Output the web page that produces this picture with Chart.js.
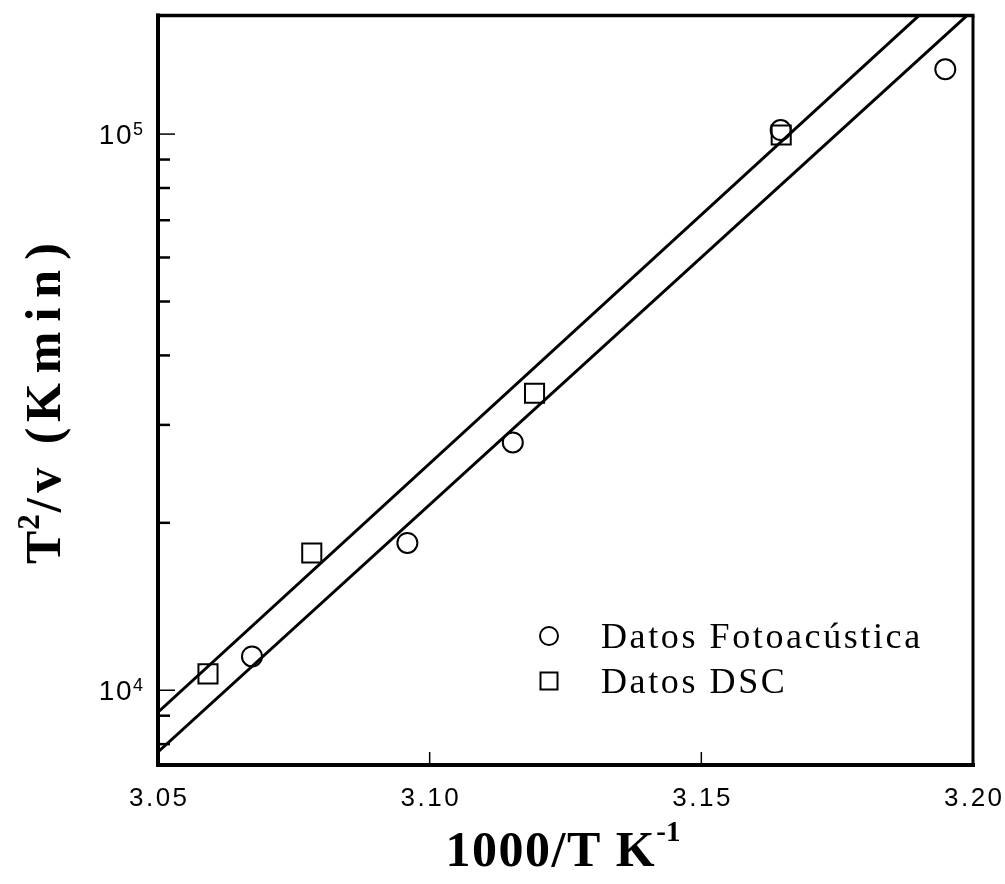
<!DOCTYPE html>
<html>
<head>
<meta charset="utf-8">
<script src="https://cdn.jsdelivr.net/npm/chart.js@4.4.1/dist/chart.umd.min.js"></script>
<style>
  html, body { margin: 0; padding: 0; background: #fff; }
  #wrap { width: 1005px; height: 884px; }
</style>
</head>
<body>
<div id="wrap"><canvas id="c"></canvas></div>
<script>
// Photoacoustic runs: 1000/T (K^-1) vs T^2/v (K min)
const fotoX = [3.0673, 3.0959, 3.1153, 3.1646, 3.1949];
const fotoY = [11500, 18400, 27900, 101700, 130800];
// DSC runs
const dscX = [3.0592, 3.0783, 3.1193, 3.1647];
const dscY = [10700, 17650, 34200, 99600];
// Kissinger straight-line fits, given at the ends of the x range
const fitX = [3.05, 3.20];
const fitDscY = [9131, 200500];
const fitFotoY = [7744, 167100];

// Axis ticks and labels
const xTickValues = [3.05, 3.10, 3.15, 3.20];
const xTickLabels = ['3.05', '3.10', '3.15', '3.20'];
const yMajorValues = [1e4, 1e5];
const yMajorLabels = [['10', '4'], ['10', '5']];
const yMinorValues = [8e3, 9e3, 2e4, 3e4, 4e4, 5e4, 6e4, 7e4, 8e4, 9e4];
const legendLabels = ['Datos Fotoacústica', 'Datos DSC'];

const pts = (xs, ys) => xs.map((v, i) => ({ x: v, y: ys[i] }));

const SANS = '"Liberation Sans", Arial, sans-serif';
const SERIF = '"Liberation Serif", "Times New Roman", serif';

function seg(ctx, x1, y1, x2, y2) {
  ctx.beginPath(); ctx.moveTo(x1, y1); ctx.lineTo(x2, y2); ctx.stroke();
}

// Text with tracking; returns advance width
function spaced(ctx, text, x, y, sp) {
  ctx.letterSpacing = sp + 'px';
  ctx.fillText(text, x, y);
  const w = ctx.measureText(text).width;
  ctx.letterSpacing = '0px';
  return w;
}
function spacedWidth(ctx, text, sp) {
  ctx.letterSpacing = sp + 'px';
  const w = ctx.measureText(text).width;
  ctx.letterSpacing = '0px';
  return w;
}

const decorations = {
  id: 'decorations',
  afterDraw(chart) {
    const { ctx, chartArea: a, scales: { x, y } } = chart;
    ctx.save();
    ctx.strokeStyle = '#000';
    ctx.fillStyle = '#000';
    ctx.lineCap = 'butt';

    // inward tick marks
    ctx.lineWidth = 1.5;
    xTickValues.forEach(v => {
      const px = x.getPixelForValue(v);
      seg(ctx, px, a.bottom, px, a.bottom - 13);
    });
    yMajorValues.forEach(v => {
      const py = y.getPixelForValue(v);
      seg(ctx, a.left, py, a.left + 17, py);
    });
    ctx.lineWidth = 2.5;
    yMinorValues.forEach(v => {
      const py = y.getPixelForValue(v);
      seg(ctx, a.left, py, a.left + 12, py);
    });

    // frame
    ctx.lineWidth = 4;
    seg(ctx, a.left, a.top - 2, a.left, a.bottom + 2);
    seg(ctx, a.left - 2, a.bottom, a.right + 2, a.bottom);
    ctx.lineWidth = 3.5;
    seg(ctx, a.left - 2, a.top, a.right + 1.5, a.top);
    ctx.lineWidth = 3;
    seg(ctx, a.right, a.top, a.right, a.bottom + 2);

    // x tick labels
    ctx.font = '26px ' + SANS;
    ctx.textBaseline = 'alphabetic';
    ctx.textAlign = 'left';
    xTickValues.forEach((v, i) => {
      const px = x.getPixelForValue(v);
      const w = spacedWidth(ctx, xTickLabels[i], 2.5) - 2.5;
      spaced(ctx, xTickLabels[i], px - w / 2, a.bottom + 41, 2.5);
    });

    // y tick labels: 10 with superscript exponent
    yMajorValues.forEach((v, i) => {
      const py = y.getPixelForValue(v);
      const [base, ex] = yMajorLabels[i];
      ctx.font = '18px ' + SANS;
      const we = ctx.measureText(ex).width;
      const right = a.left - 15;
      ctx.fillText(ex, right - we, py + 1);
      ctx.font = '28px ' + SANS;
      const wb = spacedWidth(ctx, base, 1.5);
      spaced(ctx, base, right - we - wb, py + 10, 1.5);
    });

    // x axis title: 1000/T K^-1
    {
      ctx.font = 'bold 50px ' + SERIF;
      const main = '1000/T K';
      const sp = 1.5;
      const wm = spacedWidth(ctx, main, sp);
      ctx.font = 'bold 29px ' + SERIF;
      const ws = ctx.measureText('-1').width;
      const total = wm + ws;
      const xs = 563 - total / 2;
      const base = 866;
      ctx.font = 'bold 50px ' + SERIF;
      spaced(ctx, main, xs, base, sp);
      ctx.font = 'bold 29px ' + SERIF;
      ctx.fillText('-1', xs + wm, base - 25);
    }

    // y axis title: T^2/v (Kmin), rotated
    {
      ctx.save();
      ctx.translate(60, 564);
      ctx.rotate(-Math.PI / 2);
      let p = 0;
      ctx.font = 'bold 50px ' + SERIF;
      ctx.fillText('T', p, 0);
      p += ctx.measureText('T').width + 1;
      ctx.font = 'bold 31px ' + SERIF;
      ctx.fillText('2', p, -21);
      p += ctx.measureText('2').width + 2;
      ctx.font = 'bold 50px ' + SERIF;
      p += spaced(ctx, '/v (', p, 0, 5.5);
      p += spaced(ctx, 'Kmin', p, 0, 10);
      ctx.fillText(')', p, 0);
      ctx.restore();
    }

    // legend
    {
      const mx = 549, tx = 601;
      const rows = [636, 681];
      ctx.lineWidth = 2;
      ctx.beginPath(); ctx.arc(mx, rows[0], 9, 0, Math.PI * 2); ctx.stroke();
      ctx.strokeRect(mx - 8.5, rows[1] - 8.5, 17, 17);
      ctx.font = '36px ' + SERIF;
      rows.forEach((ry, i) => spaced(ctx, legendLabels[i], tx, ry + 12, 2.6));
    }
    ctx.restore();
  }
};

new Chart(document.getElementById('c'), {
  type: 'scatter',
  data: {
    datasets: [
      {
        type: 'line', label: 'fit DSC', data: pts(fitX, fitDscY),
        borderColor: '#000', borderWidth: 3, pointRadius: 0, fill: false, clip: 0
      },
      {
        type: 'line', label: 'fit Fotoacústica', data: pts(fitX, fitFotoY),
        borderColor: '#000', borderWidth: 3, pointRadius: 0, fill: false, clip: 0
      },
      {
        label: legendLabels[1], data: pts(dscX, dscY),
        pointStyle: 'rect', pointRadius: 13.5, borderWidth: 2,
        borderColor: '#000', backgroundColor: 'rgba(0,0,0,0)'
      },
      {
        label: legendLabels[0], data: pts(fotoX, fotoY),
        pointStyle: 'circle', pointRadius: 10, borderWidth: 2,
        borderColor: '#000', backgroundColor: 'rgba(0,0,0,0)'
      }
    ]
  },
  options: {
    responsive: true,
    maintainAspectRatio: false,
    animation: false,
    events: [],
    layout: { padding: { left: 158, top: 13, right: 32, bottom: 119 } },
    plugins: { legend: { display: false }, tooltip: { enabled: false } },
    scales: {
      x: { type: 'linear', min: 3.05, max: 3.20, display: false },
      y: { type: 'logarithmic', min: 7338, max: 163400, display: false }
    }
  },
  plugins: [decorations]
});
</script>
</body>
</html>
